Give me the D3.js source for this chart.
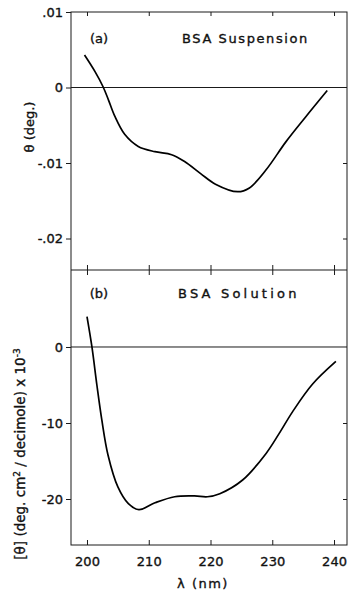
<!DOCTYPE html>
<html>
<head>
<meta charset="utf-8">
<script src="https://cdn.jsdelivr.net/npm/d3@7"></script>
<style>
  html, body { margin: 0; padding: 0; background: #fff; }
  svg { display: block; }
  text { font-family: "DejaVu Sans", sans-serif; fill: #111; stroke: #111; stroke-width: 0.35px; }
</style>
</head>
<body>
<svg id="chart" width="349" height="594"></svg>
<script>
// ---- Data ----
const xTicks = [200, 210, 220, 230, 240];

// Panel (a): BSA Suspension, theta (deg.)
const aWavelength = [199.6, 201.3, 202.6, 203.5, 204.5, 206.1, 208.3, 211.0, 213.7, 215.8, 218.4, 220.8, 224.4, 226.3, 229.0, 232.2, 235.4, 238.9];
const aTheta      = [0.0043, 0.0021, 0.0001, -0.0017, -0.0038, -0.0062, -0.0078, -0.0085, -0.0089, -0.0098, -0.0114, -0.0128, -0.0138, -0.0133, -0.0109, -0.0072, -0.0039, -0.0004];
const aYTicks = [0.01, 0, -0.01, -0.02];
const aYTickLabels = [".01", "0", "-.01", "-.02"];

// Panel (b): BSA Solution, [theta] x 10^-3
const bWavelength = [200.0, 200.8, 201.6, 202.4, 203.4, 205.0, 206.7, 208.4, 211.0, 214.2, 217.4, 219.5, 221.5, 225.2, 229.0, 231.1, 233.3, 236.5, 240.3];
const bTheta      = [4.0, 0.0, -5.0, -9.6, -14.2, -18.4, -20.6, -21.4, -20.5, -19.7, -19.6, -19.7, -19.3, -17.5, -14.0, -11.4, -8.5, -4.9, -1.9];
const bYTicks = [0, -10, -20];
const bYTickLabels = ["0", "-10", "-20"];

// ---- Layout ----
const svg = d3.select("#chart");
const left = 71, right = 347;
const aTop = 12, mid = 270, bBottom = 545;
const ink = "#1a1a1a";

const x = d3.scaleLinear().domain([197.41, 242.1]).range([left, right]);
const ya = d3.scaleLinear().domain([-0.02417, 0.01]).range([mid, aTop]);
const yb = d3.scaleLinear().domain([-26.05, 10.13]).range([bBottom, mid]);

// frame
svg.append("rect").attr("x", left).attr("y", aTop)
  .attr("width", right - left).attr("height", bBottom - aTop)
  .attr("fill", "none").attr("stroke", ink).attr("stroke-width", 1);
svg.append("line").attr("x1", left).attr("x2", right).attr("y1", mid).attr("y2", mid)
  .attr("stroke", ink).attr("stroke-width", 1.2);

function styleAxis(g) {
  g.select(".domain").remove();
  g.selectAll(".tick line").attr("stroke", ink).attr("stroke-width", 1);
  g.selectAll(".tick text").attr("fill", ink);
}

// top ticks (inward)
svg.append("g").attr("transform", `translate(0,${aTop})`)
  .call(d3.axisBottom(x).tickValues(xTicks).tickSize(4).tickFormat(""))
  .call(styleAxis);
// middle crossing ticks
svg.append("g").attr("transform", `translate(0,${mid - 5})`)
  .call(d3.axisBottom(x).tickValues(xTicks).tickSize(10).tickFormat(""))
  .call(styleAxis);
// bottom axis (inward ticks, labels below)
const bx = svg.append("g").attr("transform", `translate(0,${bBottom})`)
  .call(d3.axisTop(x).tickValues(xTicks).tickSize(5).tickFormat(d3.format("d")))
  .call(styleAxis);
bx.selectAll(".tick text").attr("y", 16).attr("dy", "0.35em")
  .style("font-size", "13px");

// left axes (outward ticks)
const la = svg.append("g").attr("transform", `translate(${left},0)`)
  .call(d3.axisLeft(ya).tickValues(aYTicks).tickSize(5).tickPadding(3)
    .tickFormat((d, i) => aYTickLabels[i]))
  .call(styleAxis);
la.selectAll(".tick text").style("font-size", "13px");
const lb = svg.append("g").attr("transform", `translate(${left},0)`)
  .call(d3.axisLeft(yb).tickValues(bYTicks).tickSize(5).tickPadding(3)
    .tickFormat((d, i) => bYTickLabels[i]))
  .call(styleAxis);
lb.selectAll(".tick text").style("font-size", "13px");

// right axes (inward ticks)
svg.append("g").attr("transform", `translate(${right},0)`)
  .call(d3.axisLeft(ya).tickValues([-0.01, -0.02]).tickSize(4).tickFormat(""))
  .call(styleAxis);
svg.append("g").attr("transform", `translate(${right},0)`)
  .call(d3.axisLeft(yb).tickValues([-10, -20]).tickSize(4).tickFormat(""))
  .call(styleAxis);

// zero lines
svg.append("line").attr("x1", left).attr("x2", right)
  .attr("y1", ya(0)).attr("y2", ya(0)).attr("stroke", ink).attr("stroke-width", 1);
svg.append("line").attr("x1", left).attr("x2", right)
  .attr("y1", yb(0)).attr("y2", yb(0)).attr("stroke", ink).attr("stroke-width", 1);

// curves
const lineA = d3.line().x((d, i) => x(aWavelength[i])).y(d => ya(d)).curve(d3.curveCatmullRom.alpha(0.5));
const lineB = d3.line().x((d, i) => x(bWavelength[i])).y(d => yb(d)).curve(d3.curveCatmullRom.alpha(0.5));
svg.append("path").attr("d", lineA(aTheta)).attr("fill", "none").attr("stroke", "#000").attr("stroke-width", 1.7);
svg.append("path").attr("d", lineB(bTheta)).attr("fill", "none").attr("stroke", "#000").attr("stroke-width", 1.7);

// panel labels
svg.append("text").attr("x", 99).attr("y", 43).attr("text-anchor", "middle")
  .style("font-size", "13px").text("(a)");
svg.append("text").attr("x", 182).attr("y", 43)
  .style("font-size", "13px").style("letter-spacing", "1.6px").text("BSA  Suspension");
svg.append("text").attr("x", 99).attr("y", 298).attr("text-anchor", "middle")
  .style("font-size", "13px").text("(b)");
svg.append("text").attr("x", 178).attr("y", 298)
  .style("font-size", "13px").style("letter-spacing", "3.2px").text("BSA  Solution");

// axis titles
svg.append("text").attr("x", 203).attr("y", 588).attr("text-anchor", "middle")
  .style("font-size", "13px").style("letter-spacing", "1.5px").text("λ (nm)");

svg.append("text").attr("transform", "translate(34,127) rotate(-90)")
  .attr("text-anchor", "middle").style("font-size", "13px")
  .text("θ (deg.)");

const tb = svg.append("text").attr("transform", "translate(25,454) rotate(-90)")
  .attr("text-anchor", "middle").style("font-size", "13.5px");
tb.append("tspan").text("[θ] (deg. cm");
tb.append("tspan").attr("dy", -5).style("font-size", "9px").text("2");
tb.append("tspan").attr("dy", 5).text(" / decimole) x 10");
tb.append("tspan").attr("dy", -5).style("font-size", "9px").text("-3");
</script>
</body>
</html>
